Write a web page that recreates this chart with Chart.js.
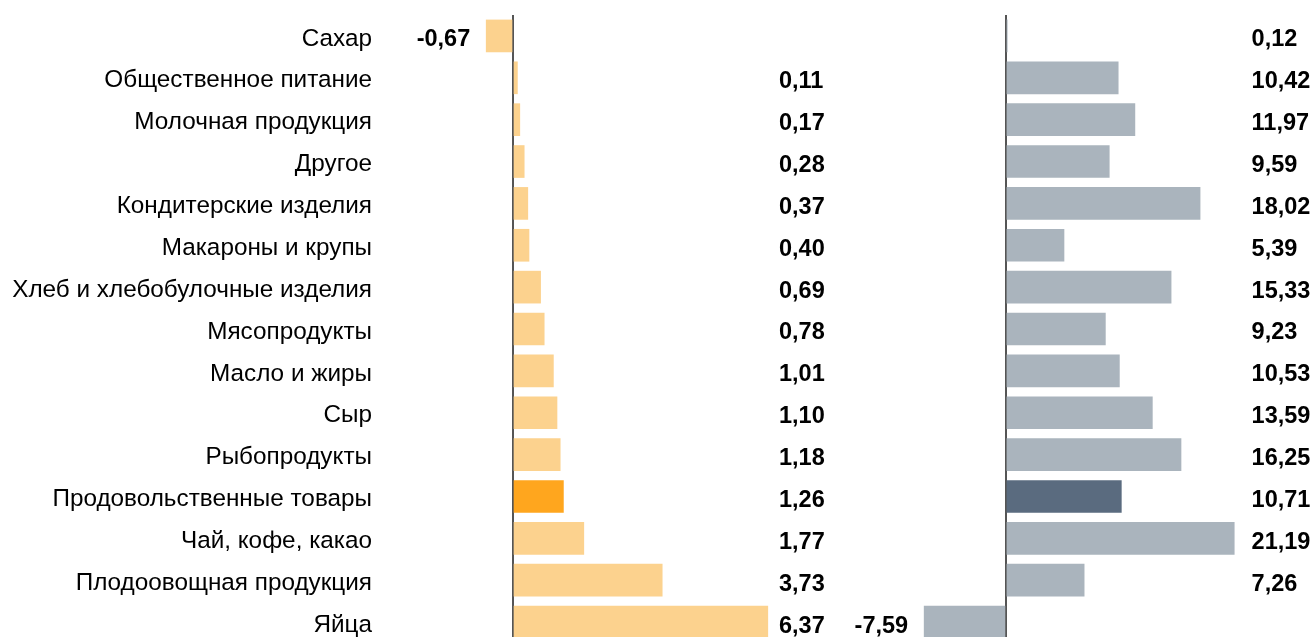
<!DOCTYPE html>
<html>
<head>
<meta charset="utf-8">
<script src="https://cdn.jsdelivr.net/npm/chart.js@4/dist/chart.umd.min.js"></script>
<style>
  html, body { margin: 0; padding: 0; background: #fff; overflow: hidden; }
  #wrap { position: relative; width: 1313px; height: 637px; overflow: hidden; }
  canvas { position: absolute; top: 0; }
</style>
</head>
<body>
<div id="wrap">
  <canvas id="left" width="833" height="643" style="left:0"></canvas>
  <canvas id="right" width="487" height="643" style="left:826px"></canvas>
</div>
<script>
const categories = ['Сахар', 'Общественное питание', 'Молочная продукция', 'Другое',
  'Кондитерские изделия', 'Макароны и крупы', 'Хлеб и хлебобулочные изделия',
  'Мясопродукты', 'Масло и жиры', 'Сыр', 'Рыбопродукты', 'Продовольственные товары',
  'Чай, кофе, какао', 'Плодоовощная продукция', 'Яйца'];
const leftValues = [-0.67, 0.11, 0.17, 0.28, 0.37, 0.40, 0.69, 0.78, 1.01, 1.10, 1.18, 1.26, 1.77, 3.73, 6.37];
const rightValues = [0.12, 10.42, 11.97, 9.59, 18.02, 5.39, 15.33, 9.23, 10.53, 13.59, 16.25, 10.71, 21.19, 7.26, -7.59];
const highlight = 'Продовольственные товары';

const fmt = v => v.toFixed(2).replace('.', ',');

// value labels: positives in a column, negatives beside the bar end
const valueLabels = {
  id: 'valueLabels',
  afterDatasetsDraw(chart, args, opts) {
    const ctx = chart.ctx;
    const meta = chart.getDatasetMeta(0);
    const xs = chart.scales.x;
    const vals = chart.data.datasets[0].data;
    ctx.save();
    ctx.font = 'bold 23.5px "Liberation Sans", Arial, sans-serif';
    ctx.fillStyle = '#000';
    ctx.textBaseline = 'middle';
    meta.data.forEach((bar, i) => {
      const v = vals[i];
      if (v < 0) {
        ctx.textAlign = 'right';
        ctx.fillText(fmt(v), bar.x - 16, bar.y + 4);
      } else {
        ctx.textAlign = 'left';
        ctx.fillText(fmt(v), xs.getPixelForValue(opts.column), bar.y + 4);
      }
    });
    ctx.restore();
  }
};

function makeChart(id, values, colors, xMin, xMax, column, showCats) {
  return new Chart(document.getElementById(id), {
    type: 'bar',
    data: {
      labels: categories,
      datasets: [{
        data: values,
        backgroundColor: categories.map(c => c === highlight ? colors[1] : colors[0]),
        barThickness: 32,
        borderWidth: 0
      }]
    },
    options: {
      indexAxis: 'y',
      responsive: false,
      animation: false,
      layout: { padding: { top: 15, bottom: 0, left: 0, right: 0 } },
      plugins: {
        legend: { display: false },
        tooltip: { enabled: false },
        valueLabels: { column: column }
      },
      scales: {
        x: {
          min: xMin,
          max: xMax,
          afterBuildTicks: s => { s.ticks = [{ value: 0 }]; },
          afterFit: s => { s.height = 0; s.paddingLeft = 0; s.paddingRight = 0; },
          ticks: { display: false },
          border: { display: false },
          grid: {
            drawTicks: false,
            color: c => c.tick && c.tick.value === 0 ? '#555555' : 'transparent',
            lineWidth: 2
          }
        },
        y: {
          display: showCats,
          afterFit: s => {
            s.width = showCats ? 385 : 0;
            s.paddingTop = 0;
            s.paddingBottom = 0;
          },
          border: { display: false },
          grid: { display: false, drawTicks: false },
          ticks: {
            padding: 13,
            labelOffset: 3,
            color: '#000',
            font: { family: '"Liberation Sans", Arial, sans-serif', size: 24.3 }
          }
        }
      }
    },
    plugins: [valueLabels]
  });
}

makeChart('left', leftValues, ['#FCD28E', '#FFA61E'], -3.2, 8, 6.65, true);
makeChart('right', rightValues, ['#AAB4BD', '#5A6B7F'], -16.7, 28.5, 22.8, false);
</script>
</body>
</html>
